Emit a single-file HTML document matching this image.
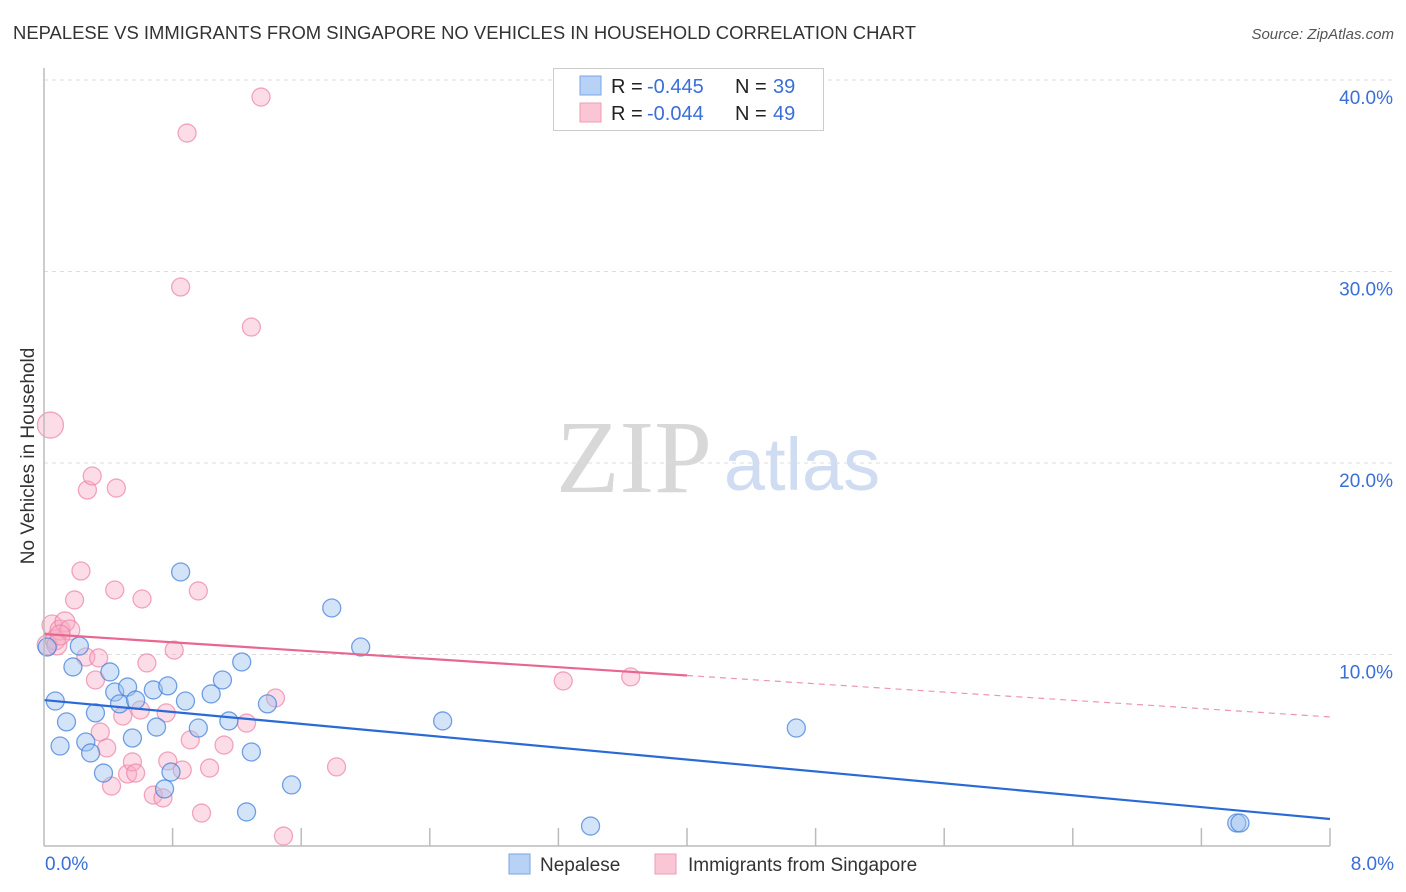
<!DOCTYPE html>
<html><head><meta charset="utf-8"><style>
body{margin:0;background:#fff;font-family:"Liberation Sans",sans-serif;}
#wrap{position:relative;width:1406px;height:892px;overflow:hidden;}
</style></head><body>
<div id="wrap">
<svg id="svg" width="1406" height="892" xmlns="http://www.w3.org/2000/svg">
<text x="13" y="39" font-size="18" fill="#333" textLength="903" lengthAdjust="spacingAndGlyphs">NEPALESE VS IMMIGRANTS FROM SINGAPORE NO VEHICLES IN HOUSEHOLD CORRELATION CHART</text>
<text x="1394" y="39" font-size="15" font-style="italic" fill="#555" text-anchor="end">Source: ZipAtlas.com</text>
<text x="634" y="492" font-size="104" font-family="Liberation Serif,serif" fill="#d8d8d8" text-anchor="middle">ZIP</text>
<text x="802" y="490" font-size="74" fill="#cfdcf2" text-anchor="middle">atlas</text>
<text transform="translate(34,456) rotate(-90)" font-size="19" fill="#333" text-anchor="middle">No Vehicles in Household</text>
<g id="grid"></g><g id="marks"></g><g id="lines"></g>
<line x1="44" y1="68" x2="44" y2="846" stroke="#bbb" stroke-width="1.5"/>
<line x1="44" y1="846" x2="1330" y2="846" stroke="#bbb" stroke-width="1.5"/>
<text x="45" y="870" font-size="19" fill="#3a6fd8">0.0%</text>
<text x="1394" y="870" font-size="19" fill="#3a6fd8" text-anchor="end">8.0%</text>
<g>
<rect x="553.5" y="68.5" width="270" height="62" fill="#fff" stroke="#ccc"/>
<rect x="580" y="76" width="21" height="19" fill="#b8d2f5" stroke="#7aa6e6"/>
<rect x="580" y="103" width="21" height="19" fill="#fac6d6" stroke="#f09bb6"/>
<text x="611" y="93" font-size="20" fill="#222">R = <tspan x="647" fill="#3a6fd8">-0.445</tspan><tspan x="735">N = </tspan><tspan x="773" fill="#3a6fd8">39</tspan></text>
<text x="611" y="120" font-size="20" fill="#222">R = <tspan x="647" fill="#3a6fd8">-0.044</tspan><tspan x="735">N = </tspan><tspan x="773" fill="#3a6fd8">49</tspan></text>
</g>
<rect x="509" y="854" width="21" height="20" fill="#b8d2f5" stroke="#7aa6e6"/>
<text x="540" y="871" font-size="19" fill="#333">Nepalese</text>
<rect x="655" y="854" width="21" height="20" fill="#fac6d6" stroke="#f09bb6"/>
<text x="688" y="871" font-size="19" fill="#333">Immigrants from Singapore</text>
</svg>
</div>
<script>
const yTicks=[10,20,30,40];
const yTickLabels=["10.0%","20.0%","30.0%","40.0%"];
const xTicks=[0.8,1.6,2.4,3.2,4.0,4.8,5.6,6.4,7.2,8.0];
const blueX=[0.02,0.07,0.10,0.14,0.18,0.22,0.26,0.29,0.32,0.37,0.41,0.44,0.47,0.52,0.55,0.57,0.68,0.70,0.77,0.79,0.75,0.85,0.88,0.96,1.04,1.11,1.15,1.23,1.26,1.29,1.39,1.54,1.79,1.97,2.48,3.40,4.68,7.42,7.44];
const blueY=[10.39,7.57,5.22,6.48,9.35,10.44,5.43,4.86,6.95,3.81,9.09,8.04,7.42,8.30,5.64,7.62,8.15,6.21,8.36,3.86,2.98,14.31,7.57,6.16,7.94,8.67,6.53,9.61,1.78,4.91,7.42,3.19,12.43,10.39,6.53,1.04,6.16,1.20,1.20];
const pinkX=[0.04,0.02,0.05,0.07,0.10,0.13,0.16,0.08,0.19,0.23,0.27,0.30,0.45,0.26,0.34,0.32,0.35,0.39,0.42,0.44,0.49,0.52,0.55,0.57,0.61,0.60,0.64,0.68,0.74,0.76,0.77,0.81,0.86,0.91,0.96,0.98,1.03,1.12,1.26,1.44,1.49,1.82,3.23,3.65,0.85,0.89,1.29,1.35,0.10];
const pinkY=[21.98,10.50,11.54,10.76,11.28,11.70,11.28,10.50,12.85,14.36,18.59,19.32,18.69,9.87,9.82,8.67,5.95,5.12,3.13,13.37,6.79,3.76,4.39,3.81,12.90,7.10,9.56,2.66,2.51,6.95,4.44,10.23,3.97,5.54,13.32,1.72,4.07,5.27,6.42,7.73,0.52,4.13,8.62,8.83,29.19,37.23,27.10,39.11,11.02];
const pinkSize=[13,10,10,10,10,10,10,10,9,9,9,9,9,9,9,9,9,9,9,9,9,9,9,9,9,9,9,9,9,9,9,9,9,9,9,9,9,9,9,9,9,9,9,9,9,9,9,9,10];
const blueTrend=[7.62,1.41];
const pinkTrend=[11.07,6.74];
const pinkSolidEnd=4.0;
const X0=44,X1=1330,Y0=846,YPER=19.15;
const sx=v=>X0+(X1-X0)*v/8;
const sy=v=>Y0-v*YPER;
const NS="http://www.w3.org/2000/svg";
function mk(tag,attrs,parent){const e=document.createElementNS(NS,tag);for(const k in attrs)e.setAttribute(k,attrs[k]);parent.appendChild(e);return e;}
const grid=document.getElementById('grid'),marks=document.getElementById('marks'),lines=document.getElementById('lines');
yTicks.forEach((t,i)=>{
 const l=mk('line',{x1:44,x2:1393,y1:sy(t),y2:sy(t),stroke:'#ddd','stroke-dasharray':'4,4'},grid);
 
 
 const tx=mk('text',{x:1393,y:sy(t)+24,'font-size':19,fill:'#3a6fd8','text-anchor':'end'},grid);
 tx.textContent=yTickLabels[i];
 
 
});
xTicks.forEach(t=>{
 const l=mk('line',{x1:sx(t),x2:sx(t),y1:828,y2:846,stroke:'#bbb','stroke-width':1.5},grid);
 
 
});
pinkX.forEach((v,i)=>{
 const c=mk('circle',{cx:sx(v),cy:sy(pinkY[i]),r:pinkSize[i],fill:'rgba(247,170,195,0.4)',stroke:'rgba(236,130,165,0.7)','stroke-width':1.3},marks);
 
 
});
blueX.forEach((v,i)=>{
 const c=mk('circle',{cx:sx(v),cy:sy(blueY[i]),r:9,fill:'rgba(160,195,240,0.45)',stroke:'rgba(70,130,220,0.75)','stroke-width':1.3},marks);
 
 
});
const bl=mk('line',{x1:sx(0),y1:sy(blueTrend[0]),x2:sx(8),y2:sy(blueTrend[1]),stroke:'#2a6ad6','stroke-width':2.2},lines);


const pm=pinkTrend[0]+(pinkTrend[1]-pinkTrend[0])*pinkSolidEnd/8;
const pl=mk('line',{x1:sx(0),y1:sy(pinkTrend[0]),x2:sx(pinkSolidEnd),y2:sy(pm),stroke:'#e9668f','stroke-width':2.2},lines);


const pd=mk('line',{x1:sx(pinkSolidEnd),y1:sy(pm),x2:sx(8),y2:sy(pinkTrend[1]),stroke:'#e9668f','stroke-width':1.2,'stroke-dasharray':'6,5',opacity:0.7},lines);


</script>
</body></html>
